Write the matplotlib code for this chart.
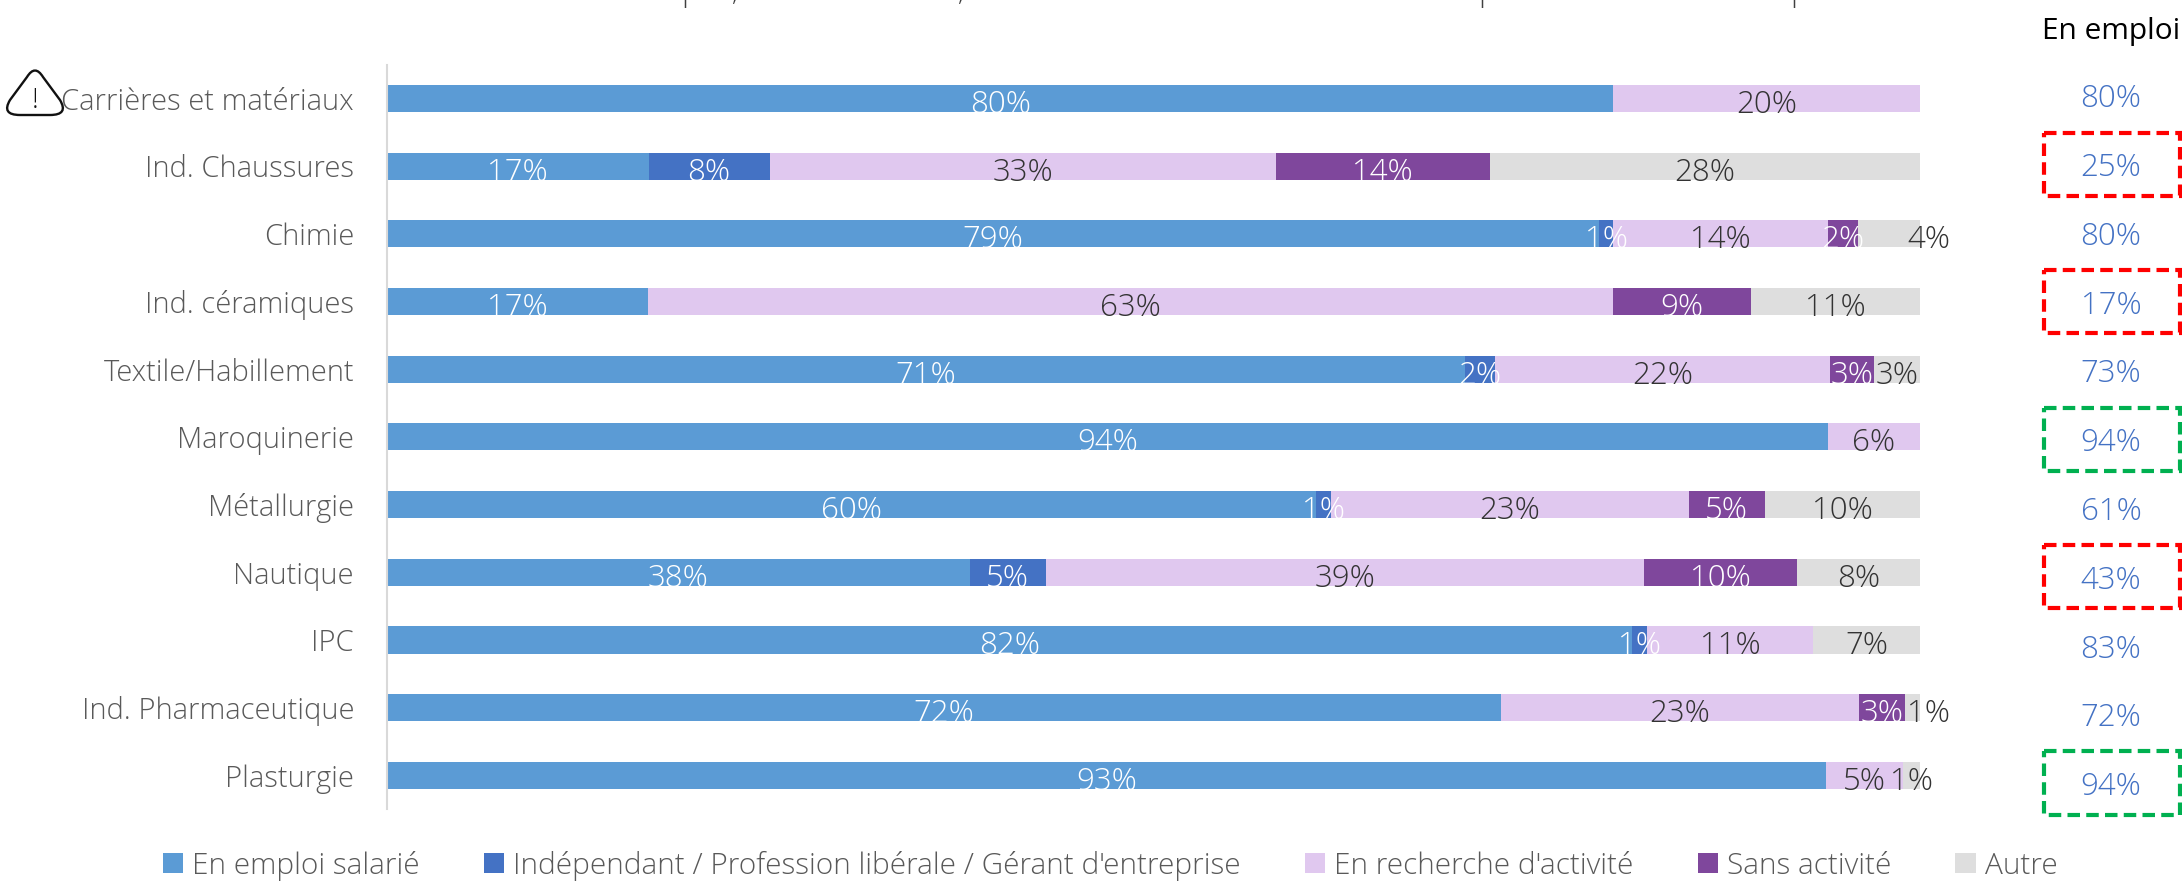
import matplotlib
matplotlib.use("Agg")
import matplotlib.pyplot as plt
from matplotlib.path import Path
from matplotlib.patches import PathPatch, Rectangle

LARGEUR = 2182
HAUTEUR = 882

secteurs = ["Carrières et matériaux", "Ind. Chaussures", "Chimie", "Ind. céramiques",
            "Textile/Habillement", "Maroquinerie", "Métallurgie", "Nautique", "IPC",
            "Ind. Pharmaceutique", "Plasturgie"]

noms_series = ["En emploi salarié", "Indépendant / Profession libérale / Gérant d'entreprise",
               "En recherche d'activité", "Sans activité", "Autre"]
couleurs = ["#5B9BD5", "#4472C4", "#E0C8EF", "#7F479C", "#DEDEDE"]
couleurs_texte = ["white", "white", "#333333", "white", "#333333"]

# largeurs, en %
emploi_salarie = [80, 17.06, 79.06, 17, 70.3, 94, 60.6, 38, 81.2, 72.7, 93.9]
independant = [0, 7.9, 0.94, 0, 2, 0, 1, 5, 1, 0, 0]
recherche = [20, 33, 14, 63, 21.8, 6, 23.3, 39, 10.85, 23.3, 5]
sans_activite = [0, 14, 1.96, 8.95, 2.9, 0, 5, 10, 0, 3, 0]
autre = [0, 28.04, 4.04, 11.05, 3, 0, 10.1, 8, 6.95, 1.1, 1.1]

# etiquettes affichees (arrondies differemment des largeurs)
lab_emploi = [80, 17, 79, 17, 71, 94, 60, 38, 82, 72, 93]
lab_indep = [None, 8, 1, None, 2, None, 1, 5, 1, None, None]
lab_recherche = [20, 33, 14, 63, 22, 6, 23, 39, 11, 23, 5]
lab_sans = [None, 14, 2, 9, 3, None, 5, 10, None, 3, None]
lab_autre = [None, 28, 4, 11, 3, None, 10, 8, 7, 1, 1]

# etiquettes de "Autre" poussees a droite de la barre, en pixels
decalage_autre = {2: 40, 9: 15}

en_emploi = [80, 25, 80, 17, 73, 94, 61, 43, 83, 72, 94]
cadres_rouges = [1, 3, 7]
cadres_verts = [5, 10]

# restes du titre coupe en haut de l'image
restes_titre = [("p", 681), (",", 732), (",", 958), ("p", 1478), ("p", 1790)]

plt.rcParams["font.family"] = ["Open Sans", "DejaVu Sans"]
plt.rcParams["font.weight"] = "light"


def position(gauche, haut, droite, bas):
    return [gauche / LARGEUR, 1 - bas / HAUTEUR, (droite - gauche) / LARGEUR, (bas - haut) / HAUTEUR]


def px(n):
    return n * 0.72


def graficar_barres(fig):
    ax = fig.add_axes(position(387, 64.7, 1920, 809.2))
    series = [emploi_salarie, independant, recherche, sans_activite, autre]
    etiquettes = [lab_emploi, lab_indep, lab_recherche, lab_sans, lab_autre]
    lignes = list(range(len(secteurs)))
    depart = [0] * len(secteurs)
    for valeurs, labs, nom, coul, coul_txt in zip(series, etiquettes, noms_series, couleurs, couleurs_texte):
        ax.barh(lignes, valeurs, left=depart, height=0.4, color=coul, label=nom)
        for i, lab in enumerate(labs):
            if lab is None:
                continue
            dx = decalage_autre.get(i, 0) if nom == "Autre" else 0
            ax.annotate(f"{lab}%", (depart[i] + valeurs[i] / 2, i), xytext=(px(dx), px(-14.5)),
                        textcoords="offset points", ha="center", va="baseline",
                        fontsize=22.5, color=coul_txt, zorder=5, annotation_clip=False)
        depart = [d + v for d, v in zip(depart, valeurs)]

    ax.set_xlim(0, 100)
    ax.set_ylim(10.5, -0.5)
    ax.set_yticks(lignes)
    ax.set_yticklabels(secteurs, fontsize=21, color="#595959")
    ax.tick_params(axis="y", length=0, pad=px(33))
    ax.xaxis.set_visible(False)
    for cote in ["top", "right", "bottom"]:
        ax.spines[cote].set_visible(False)
    ax.spines["left"].set_color("#D9D9D9")
    ax.spines["left"].set_linewidth(1.5)

    ax.legend(loc="lower left", bbox_to_anchor=(-0.146, -0.096), ncols=5, frameon=False, fontsize=21.4,
              labelcolor="#595959", handlelength=0.68, handleheight=0.68, handletextpad=0.3,
              columnspacing=2.16, borderpad=0, borderaxespad=0)


def graficar_colonne(fig):
    ax = fig.add_axes(position(2040, 61, 2182, 817.5))
    ax.set_xlim(0, 142)
    ax.set_ylim(10.5, -0.5)
    ax.axis("off")
    for i, val in enumerate(en_emploi):
        ax.annotate(f"{val}%", (71, i), xytext=(0, px(-12)), textcoords="offset points",
                    ha="center", va="baseline", fontsize=22.5, color="#4472C4")
    for lignes, coul in [(cadres_rouges, "#FF0000"), (cadres_verts, "#00B050")]:
        for i in lignes:
            ax.add_patch(Rectangle((4, i - 0.46), 136, 0.92, fill=False, edgecolor=coul,
                                   linewidth=3, linestyle=(0, (3, 1.5)), clip_on=False))


def graficar_decor(fig):
    ax = fig.add_axes([0, 0, 1, 1])
    ax.set_xlim(0, LARGEUR)
    ax.set_ylim(HAUTEUR, 0)
    ax.axis("off")
    ax.patch.set_alpha(0)

    ax.text(2111, 39, "En emploi", ha="center", va="baseline", fontsize=21.5, color="black", weight="normal")
    for car, x in restes_titre:
        ax.text(x, 0, car, ha="left", va="baseline", fontsize=22.5, color="#404040", clip_on=False)

    # triangle arrondi de l'icone d'alerte
    sommets = [(27, 77), (35, 64), (43, 77), (60, 100), (69, 115), (50, 115),
               (20, 115), (1, 115), (10, 100), (27, 77)]
    codes = [Path.MOVETO, Path.CURVE3, Path.CURVE3, Path.LINETO, Path.CURVE3, Path.CURVE3,
             Path.LINETO, Path.CURVE3, Path.CURVE3, Path.CLOSEPOLY]
    ax.add_patch(PathPatch(Path(sommets, codes), facecolor="none", edgecolor="#111111", linewidth=1.7))
    ax.text(35, 108, "!", ha="center", va="baseline", fontsize=20, color="#111111")


def main():
    fig = plt.figure(figsize=(LARGEUR / 100, HAUTEUR / 100), dpi=100)
    graficar_barres(fig)
    graficar_colonne(fig)
    graficar_decor(fig)
    fig.savefig("out.png", dpi=100)


if __name__ == "__main__":
    main()
